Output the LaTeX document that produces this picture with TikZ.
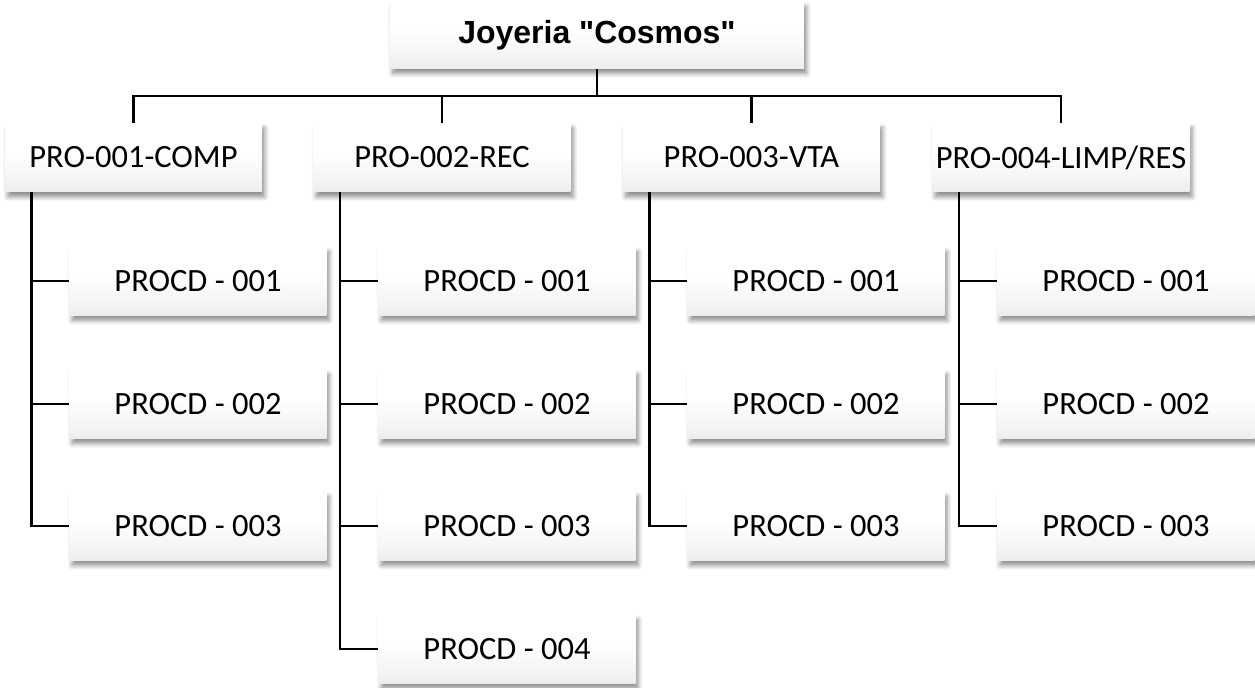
\documentclass[tikz,border=0pt]{standalone}
\usepackage{fontspec}
\setmainfont{Carlito}
\newfontfamily\titlefont{Liberation Sans}
\usetikzlibrary{shadows.blur}
% white box fading to light grey along its lower edge
\pgfdeclareverticalshading{boxshade}{100bp}{color(0bp)=(black!15); color(35bp)=(black!4); color(55bp)=(white); color(100bp)=(white)}
\begin{document}
\begin{tikzpicture}[x=0.02cm, y=-0.02cm,
  box/.style={draw=none, rectangle, inner sep=0pt, shading=boxshade,
    blur shadow={shadow xshift=1.5pt, shadow yshift=-2.8pt, shadow blur radius=2.6pt, shadow blur steps=6, shadow opacity=45},
    font=\fontsize{18.5}{20}\selectfont},
  headbox/.style={box, minimum width=8.28cm, minimum height=1.34cm,
    font=\titlefont\bfseries\fontsize{18.2}{20}\selectfont},
  procbox/.style={box, minimum width=5.14cm, minimum height=1.38cm},
  link/.style={line width=1.6pt, black}]
\useasboundingbox (0,0) rectangle (1255,687);

% root
\node[headbox] (top) at (597,35) {Joyeria "Cosmos"};

% processes
\node[procbox] (p1) at (133.5,157.5) {PRO-001-COMP};
\node[procbox] (p2) at (442,157.5) {PRO-002-REC};
\node[procbox] (p3) at (751.5,157.5) {PRO-003-VTA};
\node[procbox] (p4) at (1061,157.5) {PRO-004-LIMP/RES};

% procedures
\foreach \c/\x in {1/198, 2/507, 3/816, 4/1126}{
  \node[procbox] (c\c1) at (\x,281) {PROCD - 001};
  \node[procbox] (c\c2) at (\x,404) {PROCD - 002};
  \node[procbox] (c\c3) at (\x,526) {PROCD - 003};
}
\node[procbox] (c24) at (507,649) {PROCD - 004};

% root to processes
\coordinate (bus) at (597,96);
\draw[link] (top.south) -- (bus);
\draw[link] (p1.north) |- (bus) -| (p4.north);
\draw[link] (p2.north) -- (p2.north |- bus);
\draw[link] (p3.north) -- (p3.north |- bus);

% processes to procedures
\foreach \c in {1,3,4}{
  \coordinate (t\c) at ([xshift=15.3pt]p\c.south west);
  \draw[link] (t\c) |- (c\c3.west);
  \draw[link] (c\c1.west) -- (c\c1.west -| t\c);
  \draw[link] (c\c2.west) -- (c\c2.west -| t\c);
}
\coordinate (t2) at ([xshift=15.3pt]p2.south west);
\draw[link] (t2) |- (c24.west);
\draw[link] (c21.west) -- (c21.west -| t2);
\draw[link] (c22.west) -- (c22.west -| t2);
\draw[link] (c23.west) -- (c23.west -| t2);
\end{tikzpicture}
\end{document}
